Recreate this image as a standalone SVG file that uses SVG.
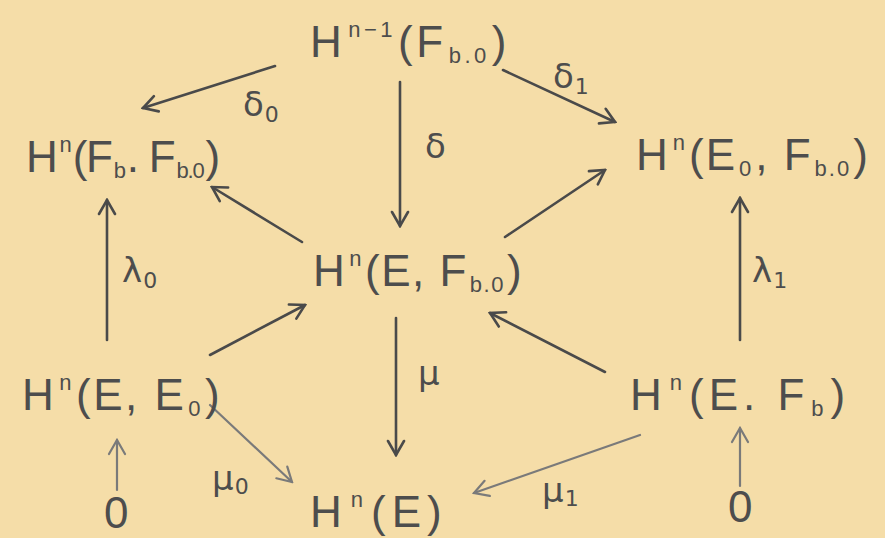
<svg xmlns="http://www.w3.org/2000/svg" width="885" height="538" viewBox="0 0 885 538">
<style>
.t{font-family:"Liberation Sans","DejaVu Sans",sans-serif;font-size:44px;fill:#4d4d4d;}
.s{font-size:22px;}
.l{font-family:"DejaVu Sans","Liberation Sans",sans-serif;font-size:34px;fill:#4d4d4d;}
.a{fill:none;stroke:#4a4a4a;stroke-width:2.6;stroke-linecap:round;marker-end:url(#h);}
.g{stroke:#7a7a7a;stroke-width:2.2;marker-end:url(#hg);}
</style>
<defs>
<marker id="h" viewBox="0 0 20 20" refX="18" refY="10" markerWidth="20" markerHeight="20" markerUnits="userSpaceOnUse" orient="auto">
<path d="M4,2 L18,10 L4,18" fill="none" stroke="#4a4a4a" stroke-width="2.6" stroke-linecap="round"/>
</marker>
<marker id="hg" viewBox="0 0 20 20" refX="18" refY="10" markerWidth="20" markerHeight="20" markerUnits="userSpaceOnUse" orient="auto">
<path d="M4,2 L18,10 L4,18" fill="none" stroke="#7a7a7a" stroke-width="2.2" stroke-linecap="round"/>
</marker>
</defs>
<rect width="885" height="538" fill="#f5dda8"/>
<g id="connectors">
<line class="a" x1="275" y1="66" x2="143" y2="108"/>
<line class="a" x1="400" y1="82" x2="400" y2="226"/>
<line class="a" x1="503" y1="70" x2="615" y2="122"/>
<line class="a" x1="302" y1="242" x2="212" y2="187"/>
<line class="a" x1="505" y1="237" x2="605" y2="170"/>
<line class="a" x1="107" y1="340" x2="107" y2="200"/>
<line class="a" x1="740" y1="340" x2="740" y2="198"/>
<line class="a" x1="210" y1="355" x2="305" y2="305"/>
<line class="a" x1="605" y1="372" x2="490" y2="313"/>
<line class="a" x1="396" y1="318" x2="396" y2="455"/>
<line class="a g" x1="210" y1="405" x2="292" y2="482"/>
<line class="a g" x1="640" y1="435" x2="474" y2="493"/>
<line class="a g" x1="117" y1="490" x2="117" y2="440"/>
<line class="a g" x1="740" y1="486" x2="740" y2="428"/>
<text class="l" x="243" y="116">δ<tspan class="s" dx="1" dy="6">0</tspan></text>
<text class="l" x="425" y="158">δ</text>
<text class="l" x="553" y="88">δ<tspan class="s" dx="1" dy="6">1</tspan></text>
<text class="l" x="122" y="282">λ<tspan class="s" dx="1" dy="6">0</tspan></text>
<text class="l" x="752" y="282">λ<tspan class="s" dx="1" dy="6">1</tspan></text>
<text class="l" x="418" y="385">μ</text>
<text class="l" x="212" y="490" fill="#777">μ<tspan class="s" dx="1" dy="4">0</tspan></text>
<text class="l" x="542" y="502" fill="#777">μ<tspan class="s" dx="1" dy="4">1</tspan></text>
</g>
<g id="n-top"><text class="t" x="310" y="57" letter-spacing="3.5">H<tspan class="s" dx="3" dy="-20">n−1</tspan><tspan dx="2" dy="20">(F</tspan><tspan class="s" dx="2" dy="6">b.0</tspan><tspan dx="2" dy="-6">)</tspan></text></g>
<g id="n-left"><text class="t" x="26" y="172" letter-spacing="-1.2">H<tspan class="s" dx="3" dy="-20">n</tspan><tspan dx="2" dy="20">(F</tspan><tspan class="s" dx="2" dy="6">b</tspan><tspan dx="2" dy="-6">. F</tspan><tspan class="s" dx="2" dy="6">b.0</tspan><tspan dx="2" dy="-6">)</tspan></text></g>
<g id="n-right"><text class="t" x="636" y="170" letter-spacing="2">H<tspan class="s" dx="3" dy="-20">n</tspan><tspan dx="2" dy="20">(E</tspan><tspan class="s" dx="2" dy="6">0</tspan><tspan dx="2" dy="-6">, F</tspan><tspan class="s" dx="2" dy="6">b.0</tspan><tspan dx="2" dy="-6">)</tspan></text></g>
<g id="n-center"><text class="t" x="313" y="286" letter-spacing="1.5">H<tspan class="s" dx="3" dy="-20">n</tspan><tspan dx="2" dy="20">(E, F</tspan><tspan class="s" dx="2" dy="6">b.0</tspan><tspan dx="2" dy="-6">)</tspan></text></g>
<g id="n-bl"><text class="t" x="22" y="410" letter-spacing="2.5">H<tspan class="s" dx="3" dy="-20">n</tspan><tspan dx="2" dy="20">(E, E</tspan><tspan class="s" dx="2" dy="6">0</tspan><tspan dx="2" dy="-6">)</tspan></text></g>
<g id="n-br"><text class="t" x="630" y="410" letter-spacing="5">H<tspan class="s" dx="3" dy="-20">n</tspan><tspan dx="2" dy="20">(E. F</tspan><tspan class="s" dx="2" dy="6">b</tspan><tspan dx="2" dy="-6">)</tspan></text></g>
<g id="n-bottom"><text class="t" x="310" y="527" fill="#666" letter-spacing="6">H<tspan class="s" dx="3" dy="-20">n</tspan><tspan dx="2" dy="20">(E)</tspan></text></g>
<g id="n-zero-l"><text class="t" x="104" y="528" fill="#666">0</text></g>
<g id="n-zero-r"><text class="t" x="728" y="522" fill="#666">0</text></g>
</svg>
